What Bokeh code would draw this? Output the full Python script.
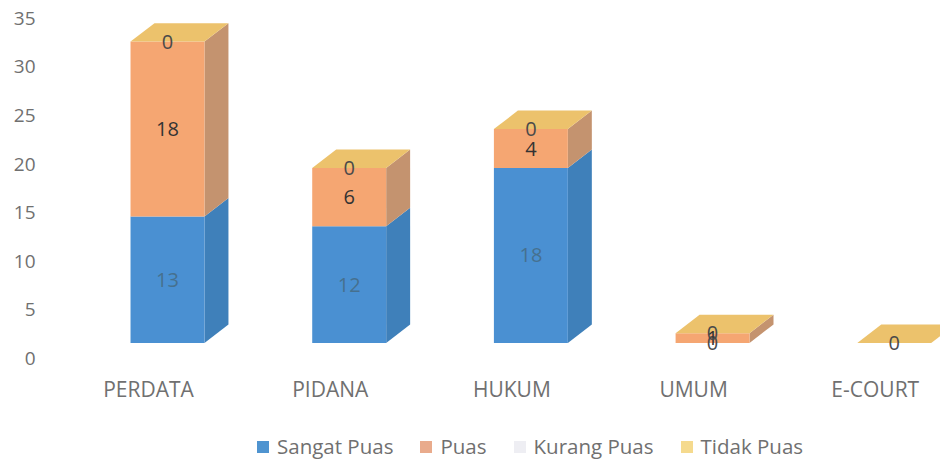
from bokeh.embed import file_html
from bokeh.models import FixedTicker, Legend, LegendItem
from bokeh.plotting import figure
from bokeh.resources import INLINE
from bokeh.core.properties import value

categories = ["PERDATA", "PIDANA", "HUKUM", "UMUM", "E-COURT"]
sangat_puas = [13, 12, 18, 0, 0]
puas = [18, 6, 4, 1, 0]
kurang_puas = [0, 0, 0, 0, 0]
tidak_puas = [0, 0, 0, 0, 0]
y_ticks = [0, 5, 10, 15, 20, 25, 30, 35]
series_names = ["Sangat Puas", "Puas", "Kurang Puas", "Tidak Puas"]

FONT = "Open Sans"
front_colors = ["#4a90d2", "#f5a672", "#ededf2", "#ecc26c"]
side_colors = ["#3f80ba", "#c4936f", "#d8d8de", "#d9b060"]
label_colors = ["#46708f", "#333333", "#666666", "#444444"]
legend_colors = ["#4f94d0", "#e9ab8c", "#eeeef3", "#f5da8e"]
ZERO_LABEL = "#4a4a4a"

BAR_LEFT, BAR_WIDTH, DEPTH_X = -0.099, 0.407, 0.132
BASE, DEPTH_Y = 1.6, 1.9

p = figure(
    width=940, height=461, output_backend="svg", toolbar_location=None,
    x_range=(-0.611, 4.359), y_range=(-10.6, 36.83),
    min_border_left=37, min_border_right=0, min_border_top=0, min_border_bottom=0,
    outline_line_color=None, background_fill_color="white", border_fill_color="white",
)
p.grid.visible = False

p.yaxis.ticker = FixedTicker(ticks=y_ticks)
p.yaxis.axis_line_color = None
p.yaxis.major_tick_line_color = None
p.yaxis.minor_tick_line_color = None
p.yaxis.major_tick_out = 0
p.yaxis.major_label_standoff = 2
p.yaxis.major_label_text_font = FONT
p.yaxis.major_label_text_font_size = "19px"
p.yaxis.major_label_text_color = "#707070"

p.xaxis.ticker = FixedTicker(ticks=list(range(len(categories))))
p.xaxis.major_label_overrides = {i: c for i, c in enumerate(categories)}
p.xaxis.fixed_location = -1.44
p.xaxis.axis_line_color = None
p.xaxis.major_tick_line_color = None
p.xaxis.minor_tick_line_color = None
p.xaxis.major_tick_out = 0
p.xaxis.major_label_standoff = 3
p.xaxis.major_label_text_font = FONT
p.xaxis.major_label_text_font_size = "21px"
p.xaxis.major_label_text_color = "#707070"

series = [sangat_puas, puas, kurang_puas, tidak_puas]
labels = {}
for i in range(len(categories)):
    x0 = i + BAR_LEFT
    x1 = x0 + BAR_WIDTH
    bottom = BASE
    for s, vals in enumerate(series):
        v = vals[i]
        top = bottom + v
        if v > 0:
            p.patch([x1, x1 + DEPTH_X, x1 + DEPTH_X, x1],
                    [bottom, bottom + DEPTH_Y, top + DEPTH_Y, top],
                    fill_color=side_colors[s], line_color=None)
            p.patch([x0, x1, x1, x0], [bottom, bottom, top, top],
                    fill_color=front_colors[s], line_color=None)
        if s != 2:
            labels[(x0 + BAR_WIDTH / 2, bottom + v / 2)] = (
                str(v), label_colors[s] if v > 0 else ZERO_LABEL)
        bottom = top
    p.patch([x0, x1, x1 + DEPTH_X, x0 + DEPTH_X],
            [bottom, bottom, bottom + DEPTH_Y, bottom + DEPTH_Y],
            fill_color=front_colors[3], line_color=None)

p.text([k[0] for k in labels], [k[1] for k in labels],
       text=[t[0] for t in labels.values()], text_color=[t[1] for t in labels.values()],
       text_font=value(FONT), text_font_size="20px",
       text_align="center", text_baseline="middle")

items = []
for s, name in enumerate(series_names):
    r = p.quad(left=[float("nan")], right=[float("nan")], top=[float("nan")], bottom=[float("nan")],
               fill_color=legend_colors[s], line_color=None)
    items.append(LegendItem(label=name, renderers=[r]))

legend = Legend(items=items, orientation="horizontal", location=(218, 1),
                glyph_width=15, glyph_height=15, label_standoff=7, spacing=25,
                margin=0, padding=0, background_fill_alpha=0, border_line_color=None,
                label_text_font=FONT, label_text_font_size="20.5px",
                label_text_color="#707070")
p.add_layout(legend, "center")

open("out.html", "w").write(file_html(p, INLINE))
